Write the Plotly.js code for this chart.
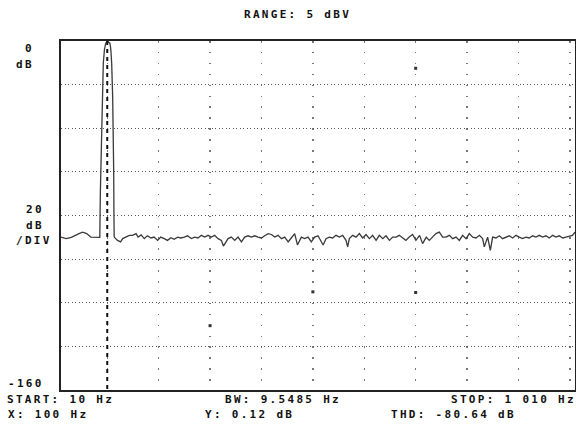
<!DOCTYPE html>
<html><head><meta charset="utf-8">
<script src="https://cdn.plot.ly/plotly-3.0.1.min.js"></script>
<style>
html,body{margin:0;padding:0;background:#fff;}
#chart svg text{letter-spacing:2.3px;}
</style>
</head><body><div id="chart" style="width:576px;height:426px;"></div>
<script>
// ---- data (frequency in Hz, level in dB) ----
var noiseLowHz = [10,20,30,37,45,52,60,68,80];
var noiseLowDb = [-89.9,-90.6,-90.0,-89.1,-88.3,-87.6,-88.3,-89.9,-89.9];

var peakHz = [85.5,86.5,88,89.1,90.4,92.3,94.5,96.9,100,105.3,107,108.6,110.5,111.8,112.5,113,113.5];
var peakDb = [-90,-70,-55,-40.8,-25.5,-10.2,-4,-1.1,0,-1.1,-4,-10.2,-25.5,-40.8,-60,-80,-89.9];

var noiseAHz = [120,126,130,136,143,149,156,160,166,172,178,185,191,198,204,211,217,224,230,237,243,250,256,263.6];
var noiseADb = [-91.4,-92.1,-90.6,-89.9,-89.1,-89.1,-88.3,-89.9,-88.9,-90.6,-89.3,-90.3,-89.9,-91.4,-89.9,-90.6,-91.4,-90.2,-90.9,-89.9,-90.3,-89.9,-89.3,-90.6];

var noiseBHz = [270,276.6,283,289.5,296,302.5,309,315.5,322,326,328.4,335,341.4,348,354.4,361,367.3,374,380.3,387,393.3,400,406.3,413,419.2,426,432.2,439,445.2,452,458.1,464.6,470,477.6,484,490.6,497,503.5,510];
var noiseBDb = [-89.9,-90.3,-89.1,-89.9,-89.1,-89.9,-89.1,-90.6,-91.4,-94.0,-92.9,-90.6,-89.9,-91.4,-89.9,-92.1,-89.9,-89.3,-89.9,-89.3,-89.9,-90.3,-89.3,-88.3,-88.7,-89.9,-89.1,-90.6,-89.9,-92.1,-90.3,-88.3,-93.5,-89.9,-90.6,-89.9,-92.1,-89.9,-89.3];

var noiseCHz = [516,520,525.6,532,538.5,545,551.5,558,564.5,567.7,571,577.4,584,590.4,597,603.4,610,616.3,623,629.3,636,642.2,649,655.2,662,668.1,675,681,687.5,694,700.5,707.6,713.5,720.6,726.5,733,739.5,746,752.5];
var noiseCDb = [-92.1,-93.5,-90.6,-89.9,-90.3,-89.1,-89.9,-89.1,-91.4,-94.4,-90.6,-89.1,-89.9,-88.3,-90.3,-88.7,-90.6,-89.1,-91.4,-89.1,-90.6,-89.3,-91.4,-89.9,-89.9,-89.1,-90.3,-91.4,-89.9,-88.7,-91.4,-89.1,-92.9,-89.9,-91.4,-89.9,-88.3,-87.6,-89.9];

var noiseDHz = [759,765.5,772,778.5,785,791.4,798,804.4,811,817.4,824,830.3,833.6,840,845.3,849.8,856.3,862.8,869.2,875.7,882.2,888.7,895.2,901.6,908,914.6,921,927.6,934,940.5,947,953.5,960,966.4,973,979.4,986,992.4,999,1005,1010];
var noiseDDb = [-89.9,-89.1,-90.6,-89.9,-91.4,-89.1,-90.6,-88.3,-89.9,-90.3,-89.1,-90.6,-94.4,-89.9,-96.0,-89.9,-90.3,-89.3,-90.6,-89.9,-89.3,-90.3,-89.1,-89.9,-90.6,-89.9,-90.3,-89.3,-89.9,-89.1,-89.9,-89.3,-90.3,-89.1,-89.9,-89.3,-90.3,-89.9,-89.3,-89.1,-87.6];

var markerHz = [100, 100];
var markerDb = [0, -160];

var harmHz = [300, 500, 700, 700];
var harmDb = [-130.5, -115, -115.3, -12.5];

var xRange = [10, 1010];
var yRange = [-160, 0];
var xGrid = [100,200,300,400,500,600,700,800,900,1000];
var yGrid = [-20,-40,-60,-80,-100,-120,-140];

var titleText = 'RANGE: 5 dBV';
var leftTop = ['0', 'dB'];
var leftMid = ['20', 'dB', '/DIV'];
var leftBottom = '-160';
var footRow1 = ['START: 10 Hz', 'BW: 9.5485 Hz', 'STOP: 1 010 Hz'];
var footRow2 = ['X: 100 Hz', 'Y: 0.12 dB', 'THD: -80.64 dB'];

// ---- build ----
var traceHz = [].concat(noiseLowHz, peakHz, noiseAHz, noiseBHz, noiseCHz, noiseDHz);
var traceDb = [].concat(noiseLowDb, peakDb, noiseADb, noiseBDb, noiseCDb, noiseDDb);

var W = 576, H = 426, L = 61, R = 1, T = 41, B = 36;
var pw = W - L - R, ph = H - T - B;
function px(X){ return (X - L) / pw; }
function py(Y){ return (H - B - Y) / ph; }

var font = {family: 'DejaVu Sans Mono, monospace', size: 11, color: '#111', weight: 'bold'};
function ann(text, X, Y){
  return {text: text, xref: 'paper', yref: 'paper', x: px(X), y: py(Y),
          xanchor: 'left', yanchor: 'middle', align: 'left', showarrow: false,
          font: font, borderpad: 0};
}

var annotations = [
  ann(titleText, 243, 15),
  ann(leftTop[0], 24, 49),
  ann(leftTop[1], 15, 65),
  ann(leftMid[0], 25, 209),
  ann(leftMid[1], 25, 225),
  ann(leftMid[2], 15, 240),
  ann(leftBottom, 7, 383),
  ann(footRow1[0], 6, 399),
  ann(footRow1[1], 224, 399),
  ann(footRow1[2], 450, 399),
  ann(footRow2[0], 7, 414),
  ann(footRow2[1], 204, 414),
  ann(footRow2[2], 390, 414)
];

var data = [
  {x: traceHz, y: traceDb, type: 'scatter', mode: 'lines',
   line: {color: '#3a3a3a', width: 1.3}, hoverinfo: 'skip'},
  {x: harmHz, y: harmDb, type: 'scatter', mode: 'markers',
   marker: {symbol: 'square', size: 3, color: '#333'}, hoverinfo: 'skip'},
  {x: markerHz, y: markerDb, type: 'scatter', mode: 'lines',
   line: {color: '#111', width: 2, dash: '4px,4px'}, hoverinfo: 'skip'}
];

var layout = {
  width: W, height: H,
  margin: {l: L, r: R, t: T, b: B, pad: 0},
  paper_bgcolor: '#fff', plot_bgcolor: '#fff',
  showlegend: false,
  xaxis: {range: xRange, tickmode: 'array', tickvals: xGrid, showticklabels: false, ticks: '',
          showgrid: true, gridcolor: '#777', gridwidth: 1.5, griddash: '1.5px,9.41px',
          zeroline: false, showline: true, mirror: true, linecolor: '#222', linewidth: 2, fixedrange: true},
  yaxis: {range: yRange, tickmode: 'array', tickvals: yGrid, showticklabels: false, ticks: '',
          showgrid: true, gridcolor: '#555', gridwidth: 1, griddash: '1.3px,2.2px',
          zeroline: false, showline: true, mirror: true, linecolor: '#222', linewidth: 2, fixedrange: true},
  annotations: annotations
};

Plotly.newPlot('chart', data, layout, {displayModeBar: false, staticPlot: true});
</script></body></html>
